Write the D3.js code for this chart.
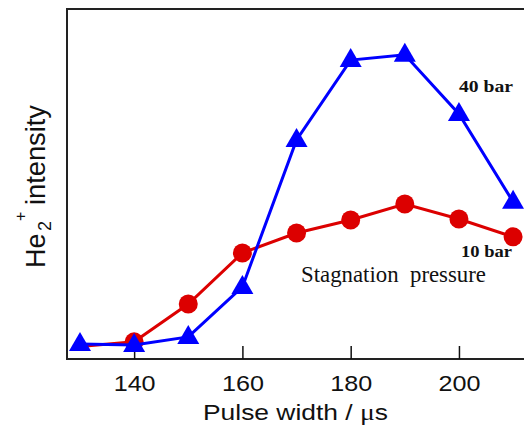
<!DOCTYPE html>
<html><head><meta charset="utf-8">
<script src="https://cdn.jsdelivr.net/npm/d3@7/dist/d3.min.js"></script>
<style>html,body{margin:0;padding:0;background:#fff;}svg{display:block;}</style>
</head><body>
<svg id="chart" width="524" height="427"></svg>
<script>
const pulseWidths = [130, 140, 150, 160, 170, 180, 190, 200, 210];
const bar40 = [4.3, 4.0, 6.3, 20.6, 62.6, 85.4, 86.9, 70.0, 44.9];
const bar10 = [3.6, 4.9, 15.7, 30.3, 36.0, 39.7, 44.3, 40.0, 34.9];
const xTicks = [140, 160, 180, 200];

(function () {
const svg = d3.select("#chart");
const mLeft = 67, mTop = 9, mBottom = 359, mRight = 525;
const x = d3.scaleLinear().domain([127.6, 212.2]).range([mLeft, mRight]);
const y = d3.scaleLinear().domain([0, 100]).range([mBottom, mTop]);

// frame
svg.append("path")
  .attr("d", `M${mRight + 10},${mTop}H${mLeft}V${mBottom}H${mRight + 10}`)
  .attr("fill", "none").attr("stroke", "#222").attr("stroke-width", 2);

// x axis
const xAxis = d3.axisBottom(x).tickValues(xTicks).tickSize(-13).tickPadding(16).tickFormat(d3.format("d"));
const gx = svg.append("g").attr("transform", `translate(0,${mBottom})`).call(xAxis);
gx.select(".domain").remove();
gx.selectAll(".tick line").attr("stroke", "#111").attr("stroke-width", 1.5);
gx.selectAll(".tick text")
  .attr("fill", "#111")
  .style("font-family", "'Liberation Sans', Arial, sans-serif")
  .style("font-size", "22px")
  .attr("textLength", 42).attr("lengthAdjust", "spacingAndGlyphs");

const line = d3.line().x((d, i) => x(pulseWidths[i])).y(d => y(d));

// 10 bar (red) - first point has no visible marker in the original
svg.append("path").datum(bar10).attr("d", line)
  .attr("fill", "none").attr("stroke", "#dc0000").attr("stroke-width", 3);
svg.append("g").selectAll("circle").data(bar10.slice(1)).join("circle")
  .attr("cx", (d, i) => x(pulseWidths[i + 1])).attr("cy", d => y(d))
  .attr("r", 9.5).attr("fill", "#dc0000");

// 40 bar (blue)
svg.append("path").datum(bar40).attr("d", line)
  .attr("fill", "none").attr("stroke", "#0000ff").attr("stroke-width", 3);
svg.append("g").selectAll("path").data(bar40).join("path")
  .attr("transform", (d, i) => `translate(${x(pulseWidths[i])},${y(d)})`)
  .attr("d", "M0,-12L11,7L-11,7Z").attr("fill", "#0000ff");

// labels
const serif = "'Liberation Serif', 'Times New Roman', serif";
svg.append("text").attr("x", 459).attr("y", 92).text("40 bar")
  .style("font-family", serif).style("font-weight", "bold").style("font-size", "17.5px")
  .attr("textLength", 54).attr("lengthAdjust", "spacingAndGlyphs").attr("fill", "#111");
svg.append("text").attr("x", 461).attr("y", 257).text("10 bar")
  .style("font-family", serif).style("font-weight", "bold").style("font-size", "17.5px")
  .attr("textLength", 51).attr("lengthAdjust", "spacingAndGlyphs").attr("fill", "#111");
svg.append("text").attr("x", 301).attr("y", 282).text("Stagnation  pressure")
  .style("white-space", "pre")
  .style("font-family", serif).style("font-size", "24px")
  .attr("textLength", 185).attr("lengthAdjust", "spacingAndGlyphs").attr("fill", "#111");

// x title
const xt = svg.append("text").attr("x", 203).attr("y", 420)
  .style("font-family", "'Liberation Sans', Arial, sans-serif").style("font-size", "22px")
  .attr("textLength", 185).attr("lengthAdjust", "spacingAndGlyphs").attr("fill", "#111");
xt.append("tspan").text("Pulse width / ");
xt.append("tspan").text("μ").style("font-family", serif).style("font-size", "23px");
xt.append("tspan").text("s");

// y title
const yg = svg.append("g").attr("transform", "translate(45,268) rotate(-90)")
  .style("font-family", "'Liberation Sans', Arial, sans-serif").attr("fill", "#111");
yg.append("text").attr("x", 0).attr("y", 0).style("font-size", "27px").text("He");
yg.append("text").attr("x", 37).attr("y", 6).style("font-size", "18px").text("2");
yg.append("text").attr("x", 47).attr("y", -19).style("font-size", "16px").text("+");
yg.append("text").attr("x", 63).attr("y", 0).style("font-size", "27px")
  .attr("textLength", 100).attr("lengthAdjust", "spacingAndGlyphs").text("intensity");
})();
</script>
</body></html>
